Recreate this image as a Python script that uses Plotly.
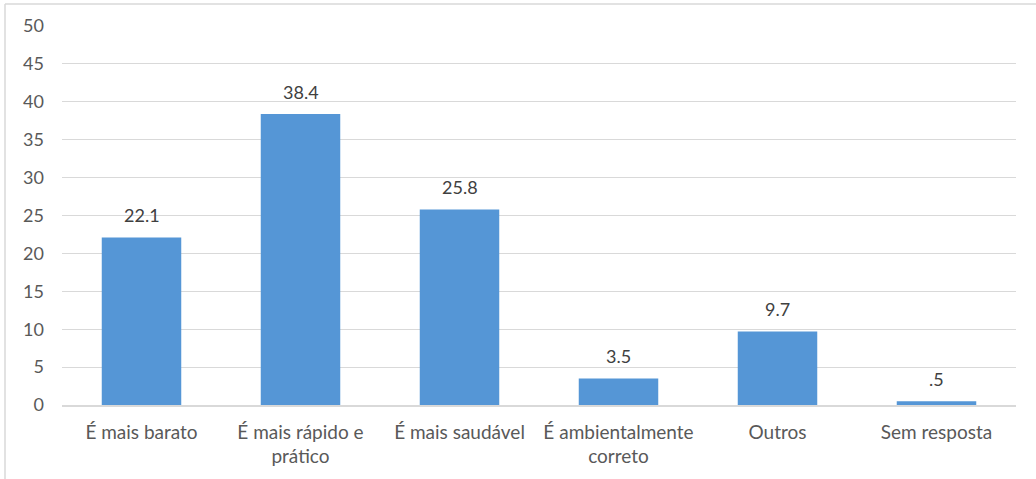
import plotly.graph_objects as go

categories = ["É mais barato", "É mais rápido e<br>prático", "É mais saudável",
              "É ambientalmente<br>correto", "Outros", "Sem resposta"]
values = [22.1, 38.4, 25.8, 3.5, 9.7, 0.5]
y_ticks = [0, 5, 10, 15, 20, 25, 30, 35, 40, 45, 50]


def fmt(v):
    s = f"{v:.1f}"
    return s[1:] if s.startswith("0.") else s


labels = [fmt(v) for v in values]

W, H = 1036, 479
L, R, T, B = 62, 20, 26, 74
pw, ph = W - L - R, H - T - B
FONT = "Lato, Open Sans, sans-serif"

fig = go.Figure()
fig.add_trace(go.Bar(
    x=categories, y=values,
    marker=dict(color="#5596d6", line=dict(width=0)),
    width=0.5,
))

for c, v, t in zip(categories, values, labels):
    fig.add_annotation(x=c, y=v, text=t, showarrow=False, yanchor="bottom",
                       yshift=9,
                       font=dict(family=FONT, size=18, color="#404040"))


def px_x(p):
    return (p - L) / pw


def px_y(p):
    return (H - B - p) / ph


fig.add_shape(type="line", xref="paper", yref="paper",
              x0=px_x(5), x1=px_x(1050), y0=px_y(4), y1=px_y(4),
              line=dict(color="#d9d9d9", width=1.5))
fig.add_shape(type="line", xref="paper", yref="paper",
              x0=px_x(5), x1=px_x(5), y0=px_y(4), y1=px_y(490),
              line=dict(color="#d9d9d9", width=1.5))

fig.update_layout(
    width=W, height=H,
    margin=dict(l=L, r=R, t=T, b=B),
    paper_bgcolor="white", plot_bgcolor="white",
    showlegend=False,
    font=dict(family=FONT, color="#595959"),
)
fig.update_xaxes(showgrid=False, showline=True, linecolor="#d9d9d9", linewidth=1.5,
                 ticks="", tickfont=dict(size=19, color="#595959"),
                 ticklabelstandoff=9)
fig.update_yaxes(range=[0, 50], tickvals=y_ticks, showgrid=True, gridcolor="#d9d9d9",
                 gridwidth=1, zeroline=False, showline=False, ticks="",
                 tickfont=dict(size=18, color="#595959"), ticklabelstandoff=17)

fig.write_html("out.html", post_script="document.body.style.margin='0';",
               config={"displayModeBar": False})
